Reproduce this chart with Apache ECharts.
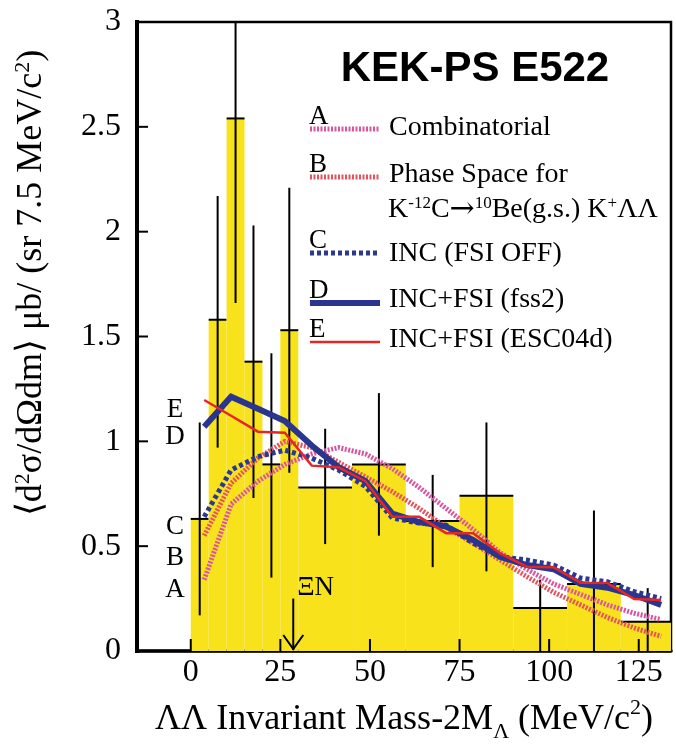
<!DOCTYPE html>
<html>
<head>
<meta charset="utf-8">
<script src="https://cdn.jsdelivr.net/npm/echarts@6/dist/echarts.min.js"></script>
<style>
  html, body { margin: 0; padding: 0; background: #fff; }
  #main { width: 676px; height: 756px; }
</style>
</head>
<body>
<div id="main"></div>
<script>
// histogram bins (MeV/c^2) and contents
var binEdges  = [0, 5, 10, 15, 20, 25, 30, 45, 60, 75, 90, 105, 120, 135];
var binValues = [0.63, 1.58, 2.54, 1.38, 0.89, 1.53, 0.78, 0.89, 0.62, 0.74, 0.205, 0.32, 0.14];
var errLow    = [0.17, 0.97, 1.66, 0.73, 0.35, 0.85, 0.51, 0.55, 0.40, 0.38, 0.0, 0.0, 0.0];
var errHigh   = [1.09, 2.17, 3.30, 2.03, 1.42, 2.21, 1.06, 1.23, 0.84, 1.09, 0.34, 0.67, 0.30];

// model curves, sampled every 7.5 MeV
var curveX = [3.75, 11.25, 18.75, 26.25, 33.75, 41.25, 48.75, 56.25, 63.75, 71.25, 78.75, 86.25, 93.75, 101.25, 108.75, 116.25, 123.75, 131.25];
var curveA = [0.34, 0.70, 0.81, 0.89, 0.94, 0.97, 0.94, 0.87, 0.78, 0.68, 0.58, 0.47, 0.39, 0.32, 0.27, 0.22, 0.18, 0.15];  // Combinatorial
var curveB = [0.55, 0.80, 0.92, 1.00, 0.97, 0.90, 0.83, 0.76, 0.68, 0.59, 0.515, 0.435, 0.355, 0.28, 0.22, 0.16, 0.11, 0.07]; // Phase space
var curveC = [0.64, 0.863, 0.927, 0.958, 0.92, 0.863, 0.785, 0.634, 0.61, 0.60, 0.515, 0.45, 0.434, 0.41, 0.348, 0.33, 0.283, 0.25]; // INC (FSI OFF)
var curveD = [1.07, 1.213, 1.155, 1.097, 0.98, 0.877, 0.81, 0.655, 0.615, 0.593, 0.53, 0.45, 0.41, 0.39, 0.32, 0.302, 0.267, 0.22]; // INC+FSI (fss2)
var curveE = [1.197, 1.122, 1.046, 1.041, 0.884, 0.876, 0.81, 0.64, 0.64, 0.562, 0.562, 0.467, 0.402, 0.40, 0.326, 0.324, 0.248, 0.243]; // INC+FSI (ESC04d)

var xTicks = [0, 25, 50, 75, 100, 125];
var yTicks = [0.5, 1, 1.5, 2, 2.5];
var xMin = -15, xMax = 134;
var xiNThreshold = 28.6;
var xiNArrowTop = 0.25;

var serif = "'Liberation Serif', 'Times New Roman', serif";
var yellow = '#f8e21c';
var colA = '#d9559f', colB = '#e4535d', colC = '#2b3a8f', colD = '#29358e', colE = '#e32727';
var frameColor = '#000';

function pairs(ys) {
    return curveX.map(function (x, i) { return [x, ys[i]]; });
}

var binData = binValues.map(function (v, i) {
    return [binEdges[i], binEdges[i + 1], v, errLow[i], errHigh[i]];
});

function renderBin(params, api) {
    var x0 = api.value(0), x1 = api.value(1), v = api.value(2);
    var p0 = api.coord([x0, 0]);
    var p1 = api.coord([x1, v]);
    var xc = api.coord([(x0 + x1) / 2, 0])[0];
    var yl = api.coord([0, api.value(3)])[1];
    var yh = api.coord([0, api.value(4)])[1];
    return {
        type: 'group',
        children: [
            { type: 'rect', shape: { x: p0[0], y: p1[1], width: p1[0] - p0[0], height: p0[1] - p1[1] }, style: { fill: yellow } },
            { type: 'line', shape: { x1: p0[0], y1: p1[1], x2: p1[0], y2: p1[1] }, style: { stroke: '#000', lineWidth: 2 } },
            { type: 'line', shape: { x1: xc, y1: yl, x2: xc, y2: yh }, style: { stroke: '#000', lineWidth: 2 } }
        ]
    };
}

function renderArrow(params, api) {
    var b = api.coord([api.value(0), 0]);
    var t = api.coord([api.value(0), api.value(1)]);
    return {
        type: 'group',
        children: [
            { type: 'line', shape: { x1: t[0], y1: t[1], x2: b[0], y2: b[1] - 1 }, style: { stroke: '#000', lineWidth: 2 } },
            { type: 'polyline', shape: { points: [[b[0] - 10, b[1] - 16], [b[0], b[1] - 2], [b[0] + 10, b[1] - 16]] }, style: { stroke: '#000', lineWidth: 2, fill: null } },
            { type: 'text', x: t[0] + 4, y: t[1] + 3, style: { text: 'ΞN', font: '27px ' + serif, fill: '#000', align: 'left', verticalAlign: 'bottom' } }
        ]
    };
}

// frame ticks (inside) and left frame line, placed with the axis scales
var frameData = xTicks.map(function (v) { return [0, v]; })
    .concat(yTicks.map(function (v) { return [1, v]; }))
    .concat([[2, 0]]);
function renderFrame(params, api) {
    var kind = api.value(0), v = api.value(1);
    if (kind === 0) {
        var p = api.coord([v, 0]);
        return { type: 'line', shape: { x1: p[0], y1: p[1], x2: p[0], y2: p[1] - 12 }, style: { stroke: frameColor, lineWidth: 2 } };
    }
    if (kind === 1) {
        var q = api.coord([xMin, v]);
        return { type: 'line', shape: { x1: q[0], y1: q[1], x2: q[0] + 11, y2: q[1] }, style: { stroke: frameColor, lineWidth: 2 } };
    }
    var a = api.coord([xMin, 0]), c = api.coord([xMin, 3]);
    return { type: 'rect', shape: { x: a[0] - 2, y: c[1] - 2, width: 4, height: a[1] - c[1] + 4 }, style: { fill: frameColor } };
}

function curve(name, ys, color, width, dash) {
    return {
        name: name, type: 'line', data: pairs(ys), showSymbol: false, symbol: 'none',
        lineStyle: { color: color, width: width, type: dash || 'solid', cap: 'butt', join: 'miter' },
        z: 3, silent: true
    };
}

// legend pieces (letter, sample line, description)
var legendRows = [
    { letter: 'A', ly: 129, ty: 128, color: colA, width: 5, dash: [2, 1.5], text: 'Combinatorial' },
    { letter: 'B', ly: 177, ty: 175, color: colB, width: 5, dash: [2, 1.5], text: 'Phase Space for' },
    { letter: 'C', ly: 253, ty: 254, color: colC, width: 5, dash: [4, 3], text: 'INC (FSI OFF)' },
    { letter: 'D', ly: 303, ty: 300, color: colD, width: 6, dash: null, text: 'INC+FSI (fss2)' },
    { letter: 'E', ly: 342, ty: 340, color: colE, width: 2.5, dash: null, text: 'INC+FSI (ESC04d)' }
];
var graphics = [];
legendRows.forEach(function (r) {
    graphics.push({ type: 'line', shape: { x1: 310, y1: r.ly, x2: 380, y2: r.ly }, style: { stroke: r.color, lineWidth: r.width, lineDash: r.dash } });
    graphics.push({ type: 'text', x: 309, y: r.ly - 12, style: { text: r.letter, font: '27px ' + serif, fill: '#000', align: 'left', verticalAlign: 'middle' } });
    graphics.push({ type: 'text', x: 389, y: r.ty, style: { text: r.text, font: '28px ' + serif, fill: '#000', align: 'left', verticalAlign: 'middle' } });
});
graphics.push({
    type: 'text', x: 388, y: 210,
    style: {
        text: 'K{sup|-12}C{arr|→}{sup|10}Be(g.s.) K{sup|+}ΛΛ',
        font: '28px ' + serif, fill: '#000', align: 'left', verticalAlign: 'middle',
        rich: {
            sup: { fontSize: 17, fontFamily: serif, verticalAlign: 'top', lineHeight: 30 },
            arr: { fontSize: 30, fontFamily: "'DejaVu Serif', serif", lineHeight: 30 }
        }
    }
});
// labels at the start of each curve
[['E', 410], ['D', 437], ['C', 527], ['B', 558], ['A', 590]].forEach(function (p) {
    graphics.push({ type: 'text', x: 175, y: p[1], style: { text: p[0], font: '27px ' + serif, fill: '#000', align: 'center', verticalAlign: 'middle' } });
});
// experiment label
graphics.push({ type: 'text', x: 475, y: 69, style: { text: 'KEK-PS E522', font: 'bold 42px "Liberation Sans", Arial, sans-serif', fill: '#000', align: 'center', verticalAlign: 'middle' } });
// axis titles
graphics.push({
    type: 'text', x: 32, y: 283, rotation: Math.PI / 2,
    style: {
        text: '⟨d{sup|2}σ/dΩdm⟩ μb/ (sr 7.5 MeV/c{sup|2})',
        font: '36px ' + serif, fill: '#000', align: 'center', verticalAlign: 'middle',
        rich: { sup: { fontSize: 22, fontFamily: serif, verticalAlign: 'top', lineHeight: 40 } }
    }
});
graphics.push({
    type: 'text', x: 404, y: 720,
    style: {
        text: 'ΛΛ Invariant Mass-2M{sub|Λ} (MeV/c{sup|2})',
        font: '36px ' + serif, fill: '#000', align: 'center', verticalAlign: 'middle',
        rich: {
            sub: { fontSize: 22, fontFamily: serif, verticalAlign: 'bottom', lineHeight: 46 },
            sup: { fontSize: 22, fontFamily: serif, verticalAlign: 'top', lineHeight: 46 }
        }
    }
});

var chart = echarts.init(document.getElementById('main'));
var option = {
    animation: false,
    grid: { left: 137, top: 22, width: 534, height: 629, show: true, borderColor: '#000', borderWidth: 2.5, backgroundColor: 'transparent' },
    xAxis: {
        type: 'value', min: xMin, max: xMax,
        axisLine: { show: true, onZero: false, lineStyle: { color: '#000', width: 3.5 } },
        axisTick: { show: false },
        axisLabel: { customValues: xTicks, color: '#000', fontFamily: serif, fontSize: 32, margin: 6 },
        splitLine: { show: false }
    },
    yAxis: {
        type: 'value', min: 0, max: 3, interval: 0.5,
        axisLine: { show: true, onZero: false, lineStyle: { color: '#000', width: 3.5 } },
        axisTick: { show: false },
        axisLabel: { color: '#000', fontFamily: serif, fontSize: 32, margin: 16 },
        splitLine: { show: false }
    },
    graphic: graphics,
    series: [
        { type: 'custom', name: 'data', renderItem: renderBin, data: binData, clip: true, z: 1, silent: true, encode: { x: [0, 1], y: [2, 3, 4] } },
        { type: 'custom', name: 'XiN', renderItem: renderArrow, data: [[xiNThreshold, xiNArrowTop]], clip: false, z: 2, silent: true, encode: { x: 0, y: 1 } },
        curve('A', curveA, colA, 5, [2, 1.5]),
        curve('B', curveB, colB, 5, [2, 1.5]),
        curve('C', curveC, colC, 5, [4, 3]),
        curve('D', curveD, colD, 6, null),
        curve('E', curveE, colE, 2.5, null),
        { type: 'custom', name: 'frame', renderItem: renderFrame, data: frameData, clip: false, z: 6, silent: true }
    ]
};
chart.setOption(option);
</script>
</body>
</html>
